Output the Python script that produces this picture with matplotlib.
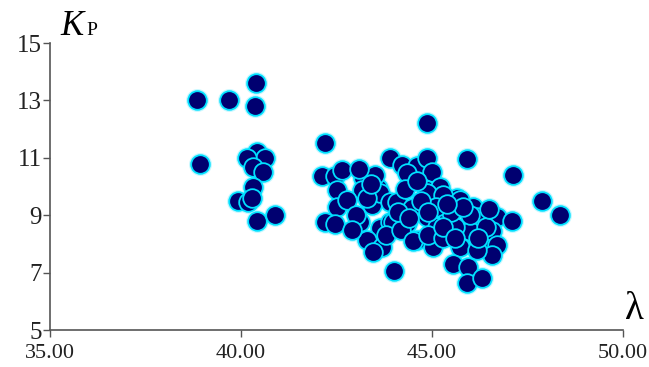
import matplotlib.pyplot as plt

# Data
lam = [38.85, 39.69, 40.39, 40.37, 38.93,
       40.42, 40.63, 40.16, 40.31, 40.58, 40.31, 39.92, 40.18, 40.42, 40.89, 40.30,
       42.20, 42.12, 42.46, 42.64, 43.19, 43.59, 43.17, 42.51, 43.90,
       42.51, 42.77, 42.20, 42.46, 43.12, 43.43, 43.64, 43.90, 43.64, 43.90,
       43.30, 43.69, 43.46, 44.00,
       44.87, 45.92, 44.21, 44.60, 44.87, 45.00, 44.35, 44.87, 45.20, 45.65,
       44.87, 45.29, 45.73, 46.07, 44.08, 44.48, 43.98, 44.35, 44.87, 45.42,
       46.18, 45.79, 45.13, 44.60, 45.03, 45.73, 46.33, 45.55, 45.94, 45.92, 46.31,
       47.12, 47.88, 48.35, 46.70, 47.09, 46.57, 46.70, 46.57, 46.18, 45.99,
       43.80, 44.20, 44.50, 44.90, 45.30, 45.60, 45.50, 45.10, 44.70, 44.30, 43.50,
       43.00, 42.90, 43.30, 44.10, 44.40, 45.30, 45.60, 46.00, 46.40, 45.80,
       44.90, 43.10, 43.40, 44.60, 45.40, 46.20, 46.50]
kp = [13.00, 13.00, 13.60, 12.80, 10.80,
      11.20, 11.00, 11.00, 10.68, 10.50, 10.00, 9.50, 9.45, 8.80, 9.00, 9.60,
      11.50, 10.35, 10.35, 10.57, 10.30, 9.95, 9.88, 9.88, 11.00,
      9.29, 9.53, 8.78, 8.70, 8.76, 9.36, 9.77, 9.46, 8.55, 8.76,
      8.14, 7.90, 7.72, 7.05,
      12.20, 10.95, 10.75, 10.70, 11.00, 10.50, 10.47, 9.88, 9.98, 9.60,
      9.77, 9.70, 9.53, 9.29, 9.46, 9.25, 8.76, 8.73, 8.94, 8.94,
      8.94, 8.38, 8.59, 8.14, 7.90, 7.90, 7.96, 7.30, 7.20, 6.64, 6.80,
      10.40, 9.50, 9.00, 8.94, 8.80, 8.45, 7.95, 7.60, 7.80, 8.45,
      8.30, 8.50, 8.10, 8.30, 8.20, 8.60, 9.10, 9.30, 9.50, 9.90, 10.40,
      9.00, 8.50, 9.60, 9.10, 8.90, 8.60, 8.20, 9.00, 8.60, 9.30,
      9.10, 10.60, 10.10, 10.20, 9.40, 8.20, 9.20]

x_ticks = [35, 40, 45, 50]
y_ticks = [5, 7, 9, 11, 13, 15]

plt.rcParams['font.family'] = ['Liberation Serif', 'DejaVu Serif']

fig = plt.figure(figsize=(6.49, 3.67), dpi=100)
ax = fig.add_axes([0.077, 0.1008, 0.883, 0.782])

# soft glow under the markers, then the markers
ax.scatter(lam, kp, s=270, color='#9ff4ff', alpha=0.6, linewidths=0, zorder=2)
ax.scatter(lam, kp, s=180, color='#000070', edgecolors='#00e0ff',
           linewidths=1.3, zorder=3)

ax.set_xlim(35, 50)
ax.set_ylim(5, 15)
ax.set_xticks(x_ticks)
ax.set_xticklabels([f"{v:.2f}" for v in x_ticks])
ax.set_yticks(y_ticks)
ax.tick_params(length=5, width=1, direction='out',
               colors='#555555', labelcolor='#222222')
ax.tick_params(axis='x', labelsize=16, pad=5)
ax.tick_params(axis='y', labelsize=18, pad=1)

for side in ['top', 'right']:
    ax.spines[side].set_visible(False)
for side in ['left', 'bottom']:
    ax.spines[side].set_color('#555555')
    ax.spines[side].set_linewidth(1.2)

fig.text(0.093, 0.905, 'K', fontsize=25, fontstyle='italic')
fig.text(0.133, 0.905, 'P', fontsize=14)
fig.text(0.963, 0.13, 'λ', fontsize=28)

fig.savefig('out.png', dpi=100)
